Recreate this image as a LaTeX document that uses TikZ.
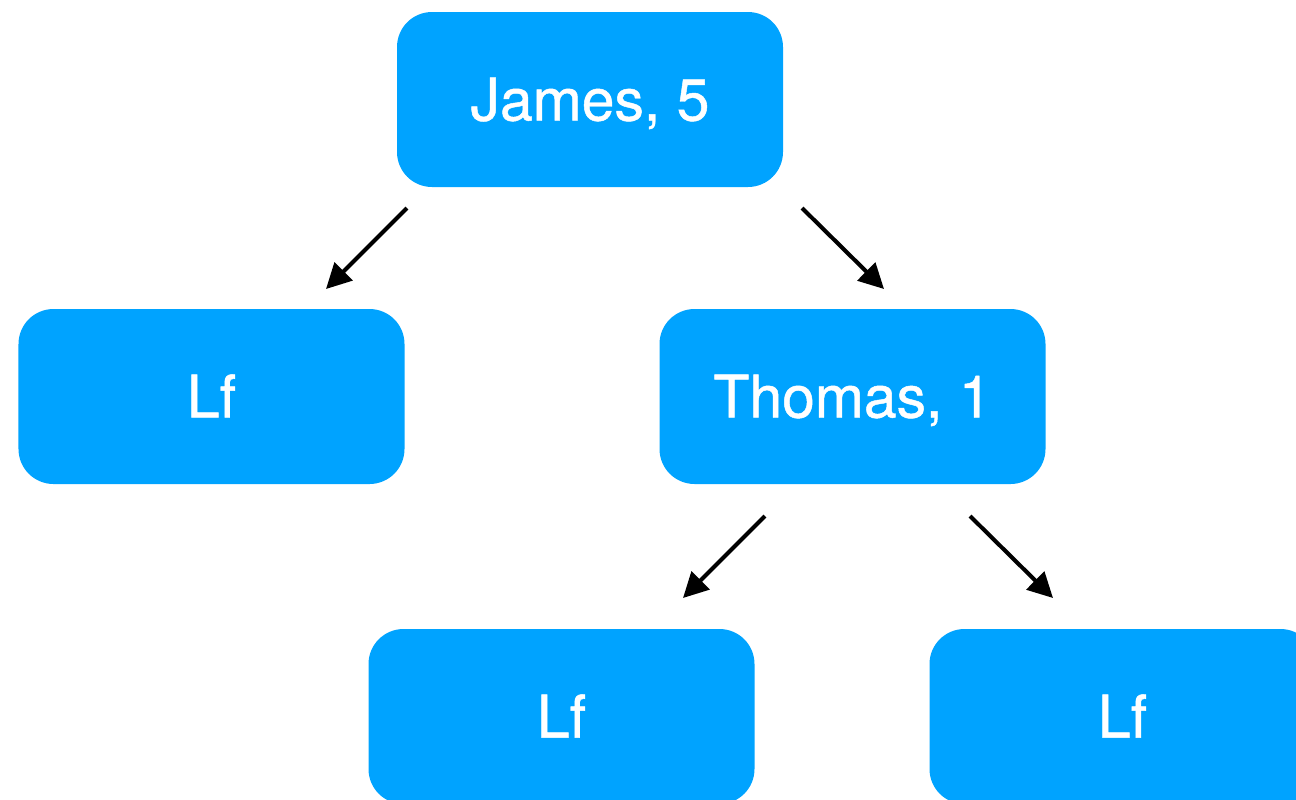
\documentclass[tikz,border=0pt]{standalone}
\usepackage{fontspec}
\setmainfont{TeX Gyre Heros}
\newfontfamily\boxfont[FakeBold=0.8]{TeX Gyre Heros}
\usetikzlibrary{arrows.meta}

\definecolor{treeblue}{RGB}{0,163,255}

\tikzset{
  treebox/.style={fill=treeblue, rounded corners=0.7cm, minimum width=7.72cm,
    minimum height=3.5cm, text=white, inner sep=0pt, text height=0.84cm, text depth=0pt,
    font=\boxfont\fontsize{33.5}{40}\selectfont},
  treearrow/.style={line width=2.3pt, -{Triangle[length=0.5cm,width=0.5cm]}}
}

\begin{document}
\begin{tikzpicture}
  \useasboundingbox (0,0) rectangle (25.92,-15.98);
  \node[treebox] (james)  at (11.8,-1.99)  {James, 5};
  \node[treebox] (lfA)    at (4.23,-7.93)  {Lf};
  \node[treebox] (thomas) at (17.05,-7.93) {Thomas, 1};
  \node[treebox] (lfB)    at (11.23,-14.33) {Lf};
  \node[treebox] (lfC)    at (22.45,-14.33) {Lf};

  \draw[treearrow] ([shift={(-3.66,-2.17)}]james.center) -- ([shift={(2.29,2.15)}]lfA.center);
  \draw[treearrow] ([shift={(4.24,-2.17)}]james.center) -- ([shift={(0.63,2.15)}]thomas.center);
  \draw[treearrow] ([shift={(-1.75,-2.39)}]thomas.center) -- ([shift={(2.43,2.37)}]lfB.center);
  \draw[treearrow] ([shift={(2.35,-2.39)}]thomas.center) -- ([shift={(-1.39,2.37)}]lfC.center);
\end{tikzpicture}
\end{document}
